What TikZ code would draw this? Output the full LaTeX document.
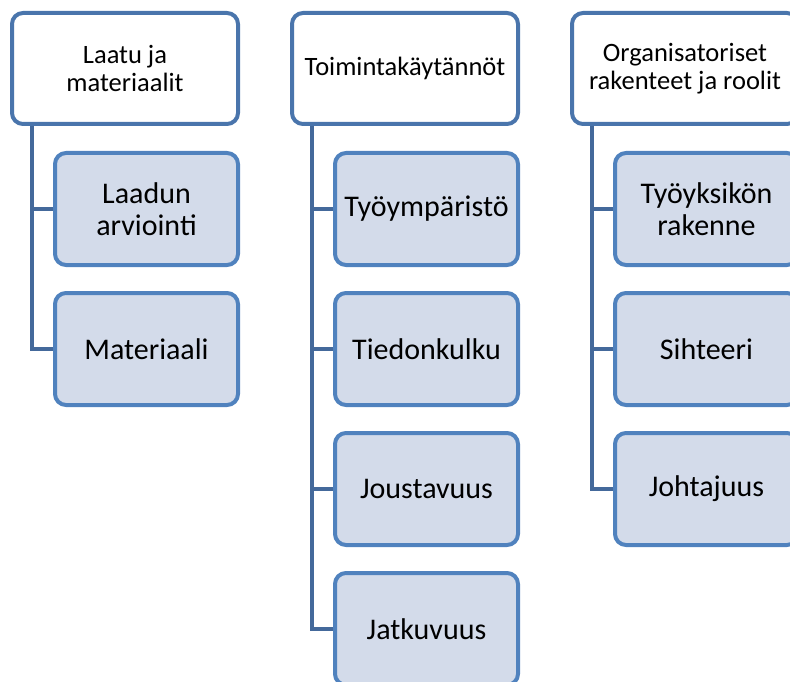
\documentclass[tikz,border=0pt]{standalone}
\usepackage{fontspec}
\setmainfont{Carlito}
\definecolor{headline}{HTML}{4A75AC}
\definecolor{itemline}{HTML}{5082BE}
\definecolor{itemfill}{HTML}{D3DBEA}
\definecolor{linkline}{HTML}{44699B}
\tikzset{
  headbox/.style={draw=headline, line width=4pt, fill=white, rounded corners=11pt,
    minimum width=226pt, minimum height=111pt, inner sep=0pt, align=center,
    font=\fontsize{26.5}{28.5}\selectfont},
  itembox/.style={draw=itemline, line width=4pt, fill=itemfill, rounded corners=11pt,
    minimum width=183pt, minimum height=112pt, inner sep=0pt, align=center,
    font=\fontsize{30}{32}\selectfont},
  link/.style={draw=linkline, line width=4pt}
}
\begin{document}
\begin{tikzpicture}[x=1pt,y=-1pt]
\useasboundingbox (0,0) rectangle (790,682);

% column headers
\node[headbox] (h1) at (125,68.5) {Laatu ja\\materiaalit};
\node[headbox] (h2) at (405,68.5) {Toimintakäytännöt};
\node[headbox] (h3) at (685,68.5) {Organisatoriset\\rakenteet ja roolit};

% items of the first column
\node[itembox] (a1) at (146.5,209) {Laadun\\arviointi};
\node[itembox] (a2) at (146.5,349) {Materiaali};

% items of the second column
\node[itembox] (b1) at (426.5,209) {Työympäristö};
\node[itembox] (b2) at (426.5,349) {Tiedonkulku};
\node[itembox] (b3) at (426.5,489) {Joustavuus};
\node[itembox] (b4) at (426.5,629) {Jatkuvuus};

% items of the third column
\node[itembox] (c1) at (706.5,209) {Työyksikön\\rakenne};
\node[itembox] (c2) at (706.5,349) {Sihteeri};
\node[itembox] (c3) at (706.5,489) {Johtajuus};

% spines and branches
\draw[link] ([xshift=22pt]h1.south west) |- (a2.west);
\draw[link] ([xshift=22pt]h1.south west |- a1.west) -- (a1.west);

\draw[link] ([xshift=22pt]h2.south west) |- (b4.west);
\foreach \n in {b1,b2,b3}
  \draw[link] ([xshift=22pt]h2.south west |- \n.west) -- (\n.west);

\draw[link] ([xshift=22pt]h3.south west) |- (c3.west);
\foreach \n in {c1,c2}
  \draw[link] ([xshift=22pt]h3.south west |- \n.west) -- (\n.west);
\end{tikzpicture}
\end{document}
